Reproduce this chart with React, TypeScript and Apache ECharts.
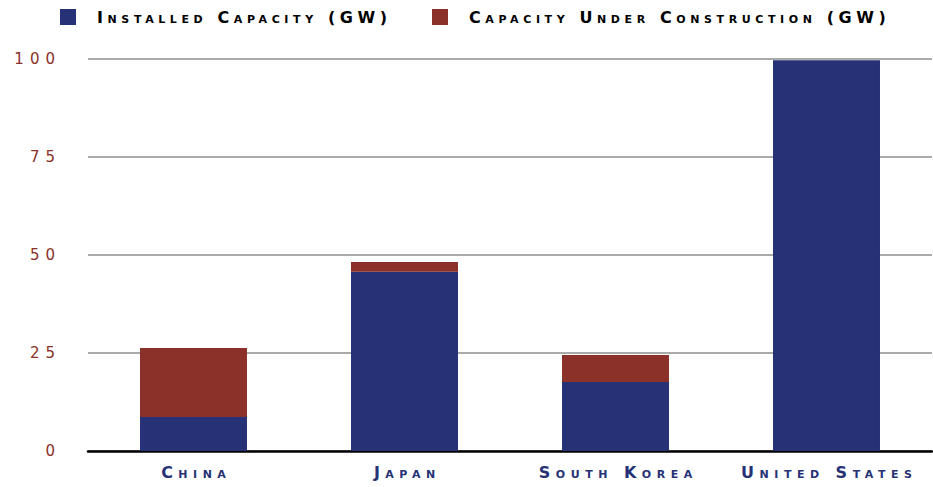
import React, { useEffect, useRef } from "react";
import * as echarts from "echarts";

const categories = ["China", "Japan", "South Korea", "United States"];
const installed = [8.7, 45.7, 17.6, 99.7];
const underConstruction = [17.6, 2.5, 6.9, 0];
const seriesNames = ["Installed Capacity (GW)", "Capacity Under Construction (GW)"];
const yTicks = { min: 0, max: 100, interval: 25 };

const BLUE = "#273276";
const RED = "#8b3129";

export default function App() {
  const ref = useRef<HTMLDivElement>(null);
  useEffect(() => {
    if (!ref.current) return;
    const chart = echarts.init(ref.current, undefined, { renderer: "svg" });
    const legendText = {
      color: "#000",
      fontSize: 16,
      fontWeight: "bold",
      fontFamily: "DejaVu Sans; letter-spacing: 4.6px; font-variant: small-caps",
      padding: [0, 0, 0, 16],
    };
    chart.setOption({
      animation: false,
      backgroundColor: "#fff",
      legend: [
        {
          data: [seriesNames[0]],
          left: 60,
          top: 9,
          itemWidth: 16,
          itemHeight: 16,
          icon: "rect",
          padding: 0,
          textStyle: legendText,
        },
        {
          data: [seriesNames[1]],
          left: 432,
          top: 9,
          itemWidth: 16,
          itemHeight: 16,
          icon: "rect",
          padding: 0,
          textStyle: legendText,
        },
      ],
      grid: { left: 88, right: 1, top: 59, bottom: 36, containLabel: false },
      xAxis: {
        type: "category",
        data: categories,
        axisTick: { show: false },
        axisLine: { lineStyle: { color: "#000", width: 2.5 } },
        axisLabel: {
          interval: 0,
          margin: 16,
          color: BLUE,
          fontSize: 16,
          fontWeight: "bold",
          fontFamily: "DejaVu Sans; letter-spacing: 5.5px; font-variant: small-caps",
          padding: [0, 0, 0, 5.5],
        },
      },
      yAxis: {
        type: "value",
        min: yTicks.min,
        max: yTicks.max,
        interval: yTicks.interval,
        axisLine: { show: false },
        axisTick: { show: false },
        splitLine: { lineStyle: { color: "#aaaaaa", width: 2 } },
        axisLabel: {
          margin: 27,
          color: RED,
          fontSize: 15,
          fontFamily: "DejaVu Sans; letter-spacing: 6px",
        },
      },
      series: [
        {
          name: seriesNames[0],
          type: "bar",
          stack: "cap",
          data: installed,
          barWidth: "50.7%",
          itemStyle: { color: BLUE },
        },
        {
          name: seriesNames[1],
          type: "bar",
          stack: "cap",
          data: underConstruction,
          barWidth: "50.7%",
          itemStyle: { color: RED },
        },
      ],
    });
    return () => chart.dispose();
  }, []);
  return <div ref={ref} style={{ width: 933, height: 487, position: "absolute", left: 0, top: 0 }} />;
}
